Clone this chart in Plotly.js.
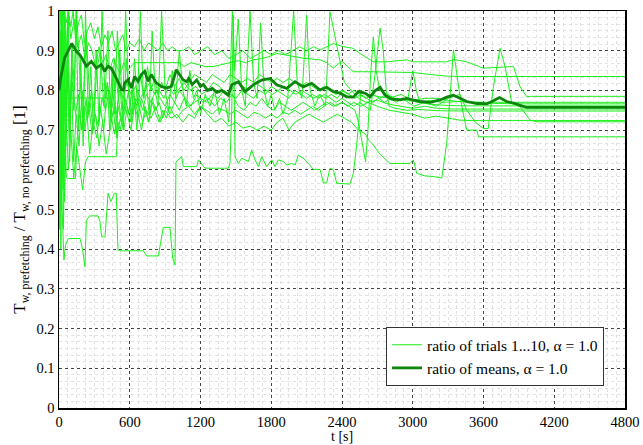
<!DOCTYPE html>
<html>
<head>
<meta charset="utf-8">
<script src="https://cdn.plot.ly/plotly-3.0.1.min.js"></script>
<style>html,body{margin:0;padding:0;background:#fff;}#chart{width:643px;height:445px;}</style>
</head>
<body>
<div id="chart"></div>
<script>
// ---- data: [t (s), ratio] pairs per trial ----
const trial1 = [[0,0.85],[10,0.62],[20,0.55],[30,0.45],[42,0.373],[55,0.41],[79,0.427],[178,0.427],[200,0.40],[220,0.356],[232,0.473],[260,0.484],[331,0.484],[347,0.47],[362,0.431],[390,0.431],[416,0.541],[440,0.52],[470,0.541],[486,0.541],[500,0.398],[517,0.396],[715,0.396],[744,0.383],[842,0.383],[885,0.455],[941,0.455],[964,0.377],[984,0.360],[992,0.62],[1040,0.633],[1054,0.608],[1168,0.608],[1182,0.625],[1238,0.604],[1436,0.604],[1450,0.616],[1465,0.75],[1478,0.99],[1493,0.633],[1521,0.616],[1549,0.629],[1606,0.621],[1634,0.65],[1662,0.625],[1691,0.608],[1719,0.633],[1761,0.608],[1804,0.625],[1832,0.608],[1860,0.625],[1903,0.621],[1931,0.612],[1974,0.616],[2002,0.612],[2030,0.637],[2072,0.629],[2115,0.616],[2157,0.601],[2214,0.601],[2242,0.567],[2270,0.567],[2298,0.604],[2327,0.60],[2355,0.566],[2468,0.564],[2496,0.591],[2520,0.65],[2539,0.709],[2560,0.80],[2620,0.79],[2700,0.785],[2800,0.78],[2900,0.79],[3000,0.775],[3100,0.78],[3200,0.78],[3300,0.775],[3450,0.77],[3600,0.768],[3750,0.767],[3900,0.766],[4800,0.766]];
const trial2 = [[0,0.80],[14,0.95],[28,0.70],[42,1.0],[56,0.75],[70,0.88],[90,0.62],[110,0.92],[130,0.80],[150,1.0],[175,0.85],[200,0.72],[230,0.95],[260,0.78],[290,0.70],[320,0.85],[350,0.90],[380,0.76],[410,0.82],[440,0.74],[470,0.88],[500,0.79],[530,0.72],[560,0.75],[590,0.80],[620,0.74],[650,0.78],[680,0.76],[710,0.72],[740,0.75],[780,0.73],[820,0.76],[860,0.72],[900,0.75],[950,0.73],[1000,0.74],[1050,0.72],[1100,0.74],[1150,0.73],[1200,0.76],[1260,0.74],[1320,0.72],[1380,0.73],[1440,0.71],[1500,0.72],[1560,0.705],[1620,0.71],[1680,0.70],[1740,0.71],[1800,0.70],[1850,0.72],[1900,0.73],[1950,0.70],[2000,0.72],[2060,0.73],[2120,0.74],[2180,0.73],[2240,0.72],[2300,0.73],[2360,0.74],[2420,0.73],[2480,0.72],[2540,0.70],[2600,0.69],[2624,0.675],[2660,0.665],[2720,0.64],[2807,0.616],[2977,0.616],[3005,0.625],[3034,0.591],[3100,0.585],[3200,0.582],[3246,0.579],[3288,0.667],[3320,0.80],[3345,0.902],[3370,0.85],[3401,0.784],[3430,0.74],[3458,0.70],[3543,0.70],[3557,0.683],[4800,0.683]];
const trial3 = [[0,0.9],[10,1.0],[25,0.95],[40,1.0],[60,0.97],[80,1.0],[100,0.93],[130,0.98],[160,0.91],[190,0.94],[220,0.88],[250,0.92],[280,0.90],[310,0.86],[340,0.91],[370,0.87],[400,0.89],[430,0.85],[460,0.88],[490,0.86],[520,0.84],[550,0.87],[580,0.85],[610,0.86],[645,0.87],[1026,0.87],[1060,0.86],[1120,0.87],[1180,0.865],[1240,0.86],[1309,0.86],[1380,0.865],[1450,0.87],[1520,0.875],[1580,0.87],[1648,0.877],[1720,0.88],[1780,0.885],[1846,0.893],[1920,0.89],[2000,0.885],[2072,0.881],[2150,0.879],[2214,0.877],[2270,0.87],[2327,0.856],[2398,0.874],[2450,0.86],[2496,0.847],[2638,0.847],[2850,0.846],[3005,0.845],[3150,0.84],[3288,0.836],[3400,0.835],[4800,0.835]];
const trial4 = [[0,0.95],[12,0.70],[24,1.0],[36,0.85],[50,1.0],[65,0.9],[80,1.0],[100,0.96],[120,1.0],[140,0.93],[165,0.97],[190,0.99],[215,0.92],[240,0.95],[270,0.97],[300,0.93],[330,0.96],[360,0.91],[390,0.94],[420,0.92],[450,0.95],[480,0.90],[510,0.92],[540,0.94],[570,0.90],[600,0.92],[640,0.91],[680,0.93],[720,0.90],[760,0.92],[800,0.91],[840,0.90],[880,0.92],[920,0.90],[960,0.91],[1000,0.90],[1050,0.90],[1100,0.91],[1150,0.89],[1200,0.90],[1260,0.91],[1320,0.89],[1380,0.90],[1440,0.88],[1500,0.89],[1560,0.90],[1620,0.88],[1680,0.89],[1740,0.90],[1800,0.89],[1860,0.90],[1920,0.89],[1980,0.90],[2040,0.91],[2100,0.90],[2160,0.91],[2214,0.902],[2270,0.91],[2327,0.918],[2411,0.910],[2496,0.906],[2553,0.893],[2666,0.872],[2779,0.872],[2949,0.877],[3005,0.872],[3288,0.872],[3345,0.878],[3458,0.872],[3599,0.856],[3700,0.858],[3854,0.860],[3910,0.809],[3967,0.784],[4000,0.785],[4800,0.785]];
const trial5 = [[0,0.7],[8,0.9],[16,0.6],[24,0.85],[35,0.55],[45,0.8],[60,0.72],[75,0.84],[95,0.76],[115,0.82],[140,0.74],[165,0.79],[190,0.70],[215,0.76],[245,0.73],[275,0.80],[305,0.74],[335,0.71],[365,0.78],[395,0.75],[425,0.80],[455,0.76],[485,0.74],[515,0.80],[545,0.78],[575,0.82],[610,0.79],[650,0.81],[690,0.78],[730,0.80],[770,0.82],[810,0.79],[850,0.80],[890,0.78],[930,0.81],[970,0.79],[1010,0.80],[1060,0.82],[1110,0.80],[1160,0.81],[1210,0.79],[1260,0.80],[1310,0.82],[1360,0.81],[1410,0.79],[1460,0.80],[1510,0.82],[1560,0.81],[1610,0.80],[1660,0.82],[1710,0.81],[1760,0.80],[1810,0.79],[1860,0.80],[1910,0.81],[1960,0.80],[2010,0.79],[2060,0.80],[2110,0.79],[2160,0.78],[2210,0.79],[2260,0.78],[2310,0.79],[2360,0.78],[2410,0.80],[2460,0.79],[2510,0.78],[2560,0.79],[2610,0.78],[2660,0.77],[2710,0.78],[2760,0.77],[2810,0.78],[2860,0.77],[2910,0.78],[2960,0.77],[3010,0.76],[3100,0.77],[3200,0.76],[3300,0.78],[3401,0.79],[3458,0.75],[3530,0.72],[3599,0.704],[3640,0.704],[3684,0.809],[3740,0.906],[3783,0.860],[3840,0.767],[3910,0.759],[3995,0.725],[4052,0.721],[4800,0.721]];
const trial6 = [[0,1.0],[6,0.5],[12,0.9],[20,0.65],[30,1.0],[40,0.6],[52,0.95],[64,0.72],[78,1.0],[92,0.68],[108,0.9],[125,0.75],[145,1.0],[165,0.70],[185,0.88],[205,0.66],[225,1.0],[248,0.74],[270,0.86],[292,0.70],[315,0.9],[340,0.72],[365,1.0],[390,0.78],[415,0.95],[440,0.72],[465,0.85],[490,0.68],[515,0.9],[540,0.75],[565,1.0],[590,0.8],[615,0.72],[640,0.88],[665,0.76],[690,1.0],[715,0.78],[740,0.82],[765,0.74],[790,0.95],[815,0.80],[840,0.76],[870,1.0],[900,0.8],[930,0.75],[960,0.85],[990,0.78],[1020,0.9],[1050,0.8],[1080,0.76],[1110,0.85],[1140,0.78],[1170,0.80],[1200,0.74],[1240,0.79],[1280,0.76],[1320,0.80],[1360,0.74],[1400,0.78],[1440,0.72],[1470,1.0],[1490,0.85],[1520,0.98],[1550,0.80],[1580,0.76],[1620,1.0],[1650,0.82],[1680,0.78],[1710,0.97],[1740,0.80],[1770,0.76],[1800,0.79],[1830,0.75],[1870,0.78],[1900,0.74],[1940,0.78],[1990,1.0],[2020,0.82],[2060,0.78],[2100,0.99],[2130,0.80],[2170,0.76],[2210,0.79],[2260,0.76],[2298,0.998],[2330,0.95],[2355,0.91],[2383,0.868],[2420,0.82],[2480,0.80],[2540,0.78],[2600,0.77],[2700,0.775],[2800,0.765],[2900,0.76],[3000,0.755],[3100,0.76],[3200,0.755],[3350,0.753],[4800,0.753]];
const trial7 = [[0,0.6],[10,0.95],[18,0.55],[28,0.8],[38,0.45],[50,0.7],[62,0.58],[76,0.578],[140,0.578],[150,0.66],[170,0.74],[200,0.70],[230,0.78],[260,0.64],[290,0.72],[320,0.68],[350,0.76],[380,0.70],[410,0.82],[440,0.74],[470,0.69],[500,0.76],[530,0.72],[560,0.78],[590,0.74],[620,0.80],[650,0.76],[680,0.78],[710,0.75],[740,0.79],[780,0.77],[820,0.80],[860,0.78],[900,0.76],[940,0.79],[980,0.77],[1020,0.80],[1070,0.78],[1120,0.76],[1170,0.79],[1220,0.77],[1270,0.78],[1320,0.76],[1370,0.78],[1420,0.77],[1470,0.79],[1520,0.76],[1570,0.75],[1620,0.77],[1670,0.76],[1720,0.78],[1770,0.76],[1820,0.75],[1870,0.77],[1920,0.76],[1970,0.75],[2020,0.76],[2070,0.77],[2120,0.76],[2170,0.75],[2220,0.76],[2270,0.77],[2330,0.76],[2400,0.77],[2460,0.76],[2510,0.75],[2540,0.72],[2575,0.66],[2600,0.62],[2620,0.70],[2645,0.85],[2666,0.935],[2690,0.85],[2720,0.80],[2780,0.79],[2850,0.78],[2950,0.775],[3050,0.77],[3150,0.765],[3300,0.762],[3450,0.761],[4800,0.761]];
const trial8 = [[0,0.75],[8,1.0],[15,0.62],[22,0.95],[32,0.58],[44,0.88],[58,0.66],[72,0.98],[88,0.70],[105,0.84],[125,0.62],[145,0.74],[170,0.66],[195,0.80],[220,0.70],[250,0.77],[280,0.69],[310,0.74],[340,0.66],[370,0.72],[400,0.64],[430,0.70],[460,0.75],[490,0.68],[520,0.73],[550,0.70],[580,0.76],[610,0.72],[640,0.78],[670,0.74],[700,0.70],[730,0.76],[760,0.72],[790,0.78],[820,0.75],[850,0.77],[880,0.73],[910,0.76],[940,0.74],[980,0.77],[1020,0.75],[1060,0.78],[1100,0.76],[1150,0.77],[1200,0.78],[1250,0.77],[1300,0.79],[1350,0.78],[1400,0.80],[1450,0.79],[1500,0.78],[1550,0.80],[1600,0.79],[1650,0.78],[1700,0.80],[1750,0.79],[1800,0.81],[1850,0.80],[1900,0.79],[1950,0.78],[2000,0.80],[2050,0.79],[2100,0.78],[2150,0.79],[2200,0.78],[2250,0.79],[2300,0.78],[2350,0.77],[2400,0.78],[2450,0.77],[2500,0.76],[2550,0.77],[2600,0.76],[2640,0.75],[2680,0.84],[2723,0.957],[2750,0.90],[2775,0.80],[2800,0.76],[2850,0.755],[2950,0.75],[3050,0.752],[3200,0.749],[3400,0.748],[4800,0.748]];
const trial9 = [[0,0.9],[6,0.45],[14,0.75],[22,0.5],[34,0.68],[48,0.52],[62,0.72],[80,0.6],[100,0.7],[125,0.58],[150,0.66],[175,0.6],[200,0.55],[225,0.62],[246,0.633],[486,0.633],[500,0.72],[520,0.70],[550,0.76],[580,0.74],[610,0.70],[640,0.76],[670,0.73],[700,0.78],[730,0.75],[760,0.72],[790,0.77],[820,0.74],[850,0.72],[880,0.75],[910,0.73],[940,0.76],[970,0.74],[1000,0.73],[1050,0.75],[1100,0.76],[1150,0.74],[1200,0.76],[1250,0.75],[1300,0.74],[1350,0.755],[1400,0.75],[1450,0.74],[1500,0.75],[1550,0.74],[1600,0.73],[1650,0.745],[1700,0.74],[1750,0.73],[1800,0.74],[1850,0.73],[1900,0.745],[1950,0.74],[2000,0.75],[2050,0.74],[2100,0.75],[2150,0.76],[2200,0.75],[2250,0.76],[2300,0.77],[2350,0.76],[2400,0.77],[2450,0.76],[2500,0.77],[2560,0.76],[2620,0.77],[2700,0.76],[2800,0.75],[2900,0.745],[3000,0.74],[3100,0.73],[3200,0.735],[3300,0.73],[3400,0.725],[3500,0.724],[4800,0.724]];
const trial10 = [[0,0.5],[8,0.85],[16,0.4],[26,1.0],[38,0.7],[48,0.781],[416,0.781],[430,0.70],[450,0.85],[470,0.74],[495,0.95],[520,0.80],[545,0.70],[570,0.88],[600,0.76],[630,0.82],[660,0.70],[690,0.84],[720,0.78],[750,0.86],[780,0.80],[810,0.83],[840,0.79],[870,0.82],[900,0.80],[940,0.84],[980,0.81],[1020,0.83],[1060,0.80],[1100,0.82],[1150,0.84],[1200,0.83],[1250,0.82],[1300,0.84],[1350,0.83],[1400,0.82],[1450,0.84],[1500,0.83],[1550,0.82],[1600,0.83],[1650,0.82],[1700,0.84],[1750,0.83],[1800,0.82],[1850,0.83],[1900,0.82],[1950,0.83],[2000,0.82],[2050,0.81],[2100,0.82],[2150,0.81],[2200,0.80],[2250,0.81],[2300,0.80],[2350,0.79],[2400,0.80],[2450,0.79],[2500,0.80],[2550,0.79],[2600,0.78],[2660,0.79],[2720,0.78],[2780,0.79],[2840,0.78],[2900,0.775],[2960,0.78],[3000,0.85],[3030,0.80],[3060,0.77],[3150,0.775],[3250,0.77],[3400,0.772],[3600,0.77],[4800,0.77]];
const ratioOfMeans = [[0,0.80],[14,0.831],[48,0.882],[80,0.90],[108,0.918],[147,0.898],[175,0.890],[203,0.877],[232,0.861],[274,0.873],[317,0.856],[359,0.865],[387,0.848],[415,0.861],[444,0.856],[486,0.831],[529,0.802],[546,0.801],[557,0.819],[585,0.827],[613,0.806],[642,0.835],[670,0.823],[698,0.840],[727,0.848],[755,0.823],[783,0.840],[825,0.819],[868,0.810],[910,0.806],[953,0.810],[995,0.852],[1023,0.840],[1052,0.827],[1083,0.822],[1100,0.83],[1130,0.815],[1168,0.826],[1200,0.81],[1224,0.815],[1260,0.800],[1300,0.805],[1340,0.795],[1380,0.80],[1436,0.788],[1465,0.814],[1521,0.822],[1578,0.797],[1648,0.814],[1719,0.826],[1790,0.830],[1846,0.814],[1931,0.805],[2002,0.822],[2072,0.809],[2143,0.818],[2214,0.801],[2270,0.808],[2327,0.797],[2383,0.793],[2440,0.784],[2496,0.783],[2539,0.797],[2596,0.793],[2638,0.784],[2680,0.799],[2723,0.808],[2765,0.788],[2822,0.778],[2892,0.776],[2949,0.780],[3005,0.776],[3062,0.772],[3147,0.770],[3232,0.776],[3288,0.783],[3345,0.788],[3401,0.780],[3458,0.772],[3543,0.767],[3628,0.766],[3684,0.774],[3735,0.782],[3797,0.772],[3868,0.767],[3924,0.761],[3967,0.757],[4800,0.757]];

const trials = [trial1, trial2, trial3, trial4, trial5, trial6, trial7, trial8, trial9, trial10];
const trialName = 'ratio of trials 1...10, \u03b1 = 1.0';
const meanName = 'ratio of means, \u03b1 = 1.0';
const xTitle = 't [s]';
const yTitle = 'T<sub>w, prefetching</sub> / T<sub>w, no prefetching</sub> [1]';
const xTicks = [0, 600, 1200, 1800, 2400, 3000, 3600, 4200, 4800];
const yTicks = [0, 0.1, 0.2, 0.3, 0.4, 0.5, 0.6, 0.7, 0.8, 0.9, 1];
const yTickText = ['0', '0.1', '0.2', '0.3', '0.4', '0.5', '0.6', '0.7', '0.8', '0.9', '1'];

const FONT = 'Liberation Serif, Times New Roman, serif';
const traces = trials.map((tr, i) => ({
  type: 'scatter', mode: 'lines',
  x: tr.map(p => p[0]), y: tr.map(p => p[1]),
  line: {color: '#1cf01c', width: 1},
  name: trialName, legendgroup: 'trials', showlegend: i === 0,
  hoverinfo: 'skip'
}));
traces.push({
  type: 'scatter', mode: 'lines',
  x: ratioOfMeans.map(p => p[0]), y: ratioOfMeans.map(p => p[1]),
  line: {color: '#0b850b', width: 2.8},
  name: meanName, showlegend: true, hoverinfo: 'skip'
});

const axisCommon = {
  showline: true, linecolor: '#000', linewidth: 1.5, mirror: true,
  showgrid: true, gridcolor: '#444', griddash: 'dot', gridwidth: 1,
  zeroline: false, ticks: '', tickfont: {family: FONT, size: 14.5, color: '#000'}
};

const layout = {
  width: 643, height: 445,
  margin: {l: 59, r: 18, t: 11, b: 37, autoexpand: false},
  paper_bgcolor: '#fff', plot_bgcolor: '#fff',
  font: {family: FONT, color: '#000'},
  showlegend: true,
  legend: {
    x: 0.963, xanchor: 'right', y: 0.055, yanchor: 'bottom',
    bgcolor: '#fff', bordercolor: '#333', borderwidth: 1,
    font: {family: FONT, size: 15.5, color: '#000'},
    tracegroupgap: 0, itemwidth: 30
  },
  xaxis: Object.assign({}, axisCommon, {
    range: [0, 4800], tickvals: xTicks, ticktext: xTicks.map(String),
    automargin: false,
    minor: {dtick: 75, tick0: 0, showgrid: true, gridcolor: '#e2e2e2', griddash: 'dot', gridwidth: 1, ticks: ''}
  }),
  yaxis: Object.assign({}, axisCommon, {
    range: [0, 1], tickvals: yTicks, ticktext: yTickText,
    automargin: false,
    title: {text: yTitle, font: {family: FONT, size: 17}, standoff: 6},
    minor: {dtick: 0.1/6, tick0: 0, showgrid: true, gridcolor: '#e2e2e2', griddash: 'dot', gridwidth: 1, ticks: ''}
  }),
  annotations: [{
    text: xTitle, xref: 'paper', yref: 'paper', x: 0.5, y: -0.0932,
    xanchor: 'center', yanchor: 'bottom', showarrow: false, borderpad: 0,
    font: {family: FONT, size: 14, color: '#000'}
  }]
};

Plotly.newPlot('chart', traces, layout, {staticPlot: true, displayModeBar: false});
</script>
</body>
</html>
